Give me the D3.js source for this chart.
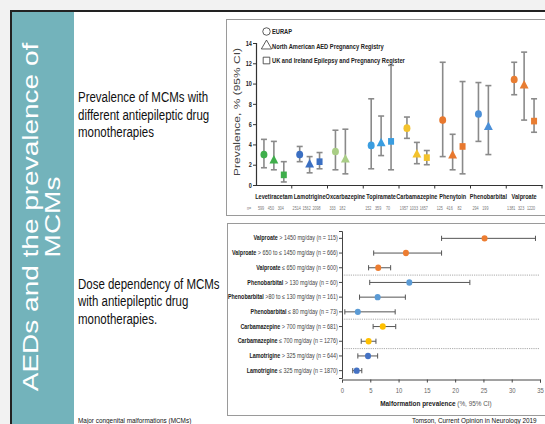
<!DOCTYPE html>
<html>
<head>
<meta charset="utf-8">
<script src="https://cdn.jsdelivr.net/npm/d3@7"></script>
<style>
body{margin:0;background:#f2f2f2;}
svg{display:block;font-family:"Liberation Sans",Arial,sans-serif;}
</style>
</head>
<body>
<svg width="545" height="424"></svg>
<script>
// ---- data: prevalence of MCMs by drug and registry ----
const drugs = ['Levetiracetam','Lamotrigine','Oxcarbazepine','Topiramate','Carbamazepine','Phenytoin','Phenobarbital','Valproate'];
const drugColors = ['#3fae4b','#3b6fc2','#a9cd85','#3a9de0','#f3c22c','#e8782e','#4b8fd7','#e87d32'];
const registries = ['EURAP','North American AED Pregnancy Registry','UK and Ireland Epilepsy and Pregnancy Register'];

const eurapPrev = [3.0, 3.0, 3.3, 3.9, 5.6, 6.4, 7.0, 10.4];
const eurapLow  = [1.7, 2.3, 1.5, 1.6, 4.6, 2.8, 4.3, 8.9];
const eurapHigh = [4.5, 3.8, 5.4, 8.5, 6.7, 12.1, 10.1, 12.1];
const naaprPrev = [2.4, 2.0, 2.5, 4.1, 3.0, 2.9, 5.7, 9.8];
const naaprLow  = [1.5, 1.2, 1.1, 2.9, 2.1, 1.5, 3.0, 6.4];
const naaprHigh = [4.3, 2.8, 5.5, 6.8, 4.2, 5.0, 9.8, 13.1];
const ukPrev    = [1.0, 2.3, null, 4.3, 2.7, 3.8, null, 6.3];
const ukLow     = [0.3, 1.6, null, 1.5, 2.0, 1.1, null, 5.2];
const ukHigh    = [2.3, 3.2, null, 11.8, 3.4, 10.2, null, 8.5];
const nCounts = [[599,450,304],[2514,1562,2098],[333,182],[152,359,70],[1957,1033,1657],[125,416,82],[294,199],[1381,323,1220]];
const prevTicks = [0,2,4,6,8,10,12,14];

// ---- data: dose dependency ----
const doseDrug  = ['Valproate','Valproate','Valproate','Phenobarbital','Phenobarbital','Phenobarbital','Carbamazepine','Carbamazepine','Lamotrigine','Lamotrigine'];
const doseText  = ['> 1450 mg/day (n = 115)','> 650 to \u2264 1450 mg/day (n = 666)','\u2264 650 mg/day (n = 600)',
                   '> 130 mg/day (n = 60)','>80 to \u2264 130 mg/day (n = 161)','\u2264 80 mg/day (n = 73)',
                   '> 700 mg/day (n = 681)','\u2264 700 mg/day (n = 1276)','> 325 mg/day (n = 644)','\u2264 325 mg/day (n = 1870)'];
const dosePrev  = [25.2, 11.3, 6.4, 11.9, 6.3, 2.8, 7.2, 4.7, 4.6, 2.6];
const doseLow   = [17.6, 5.6, 4.7, 4.9, 3.1, 0.5, 5.5, 3.4, 2.8, 1.9];
const doseHigh  = [34.2, 17.6, 8.6, 22.6, 11.2, 9.4, 9.5, 6.0, 6.3, 3.5];
const doseColors = {Valproate:'#ed7d31', Phenobarbital:'#5b9bd5', Carbamazepine:'#ffc000', Lamotrigine:'#4472c4'};
const malfTicks = [0,5,10,15,20,25,30,35];

const svg = d3.select('svg');
const width = +svg.attr('width');
const height = +svg.attr('height');
const K = 0.82; // the slide is squeezed horizontally

const txt = (g, x, y, s, size) => g.append('text')
    .attr('transform', `translate(${x},${y}) scale(${K},1)`)
    .attr('font-size', size)
    .text(s);

// ---- slide frame ----
svg.append('rect').attr('width', width).attr('height', height).attr('fill', '#f2f2f2');
svg.append('rect').attr('x', 11).attr('y', 11).attr('width', width).attr('height', height)
    .attr('fill', '#fff').attr('stroke', '#222').attr('stroke-width', 2);
svg.append('rect').attr('x', 12).attr('y', 12).attr('width', 62).attr('height', height)
    .attr('fill', '#73b3bb');

svg.append('text')
    .attr('transform', `translate(38,217) scale(${K},1) rotate(-90)`)
    .attr('text-anchor', 'middle').attr('font-size', 28).attr('fill', '#fff')
    .text('AEDs and the prevalence of');
svg.append('text')
    .attr('transform', `translate(60,217) scale(${K},1) rotate(-90)`)
    .attr('text-anchor', 'middle').attr('font-size', 28).attr('fill', '#fff')
    .text('MCMs');

const side = svg.append('g').attr('fill', '#111');
['Prevalence of MCMs with','different antiepileptic drug','monotherapies']
    .forEach((s, i) => txt(side, 78, 102 + i * 17.5, s, 14));
['Dose dependency of MCMs','with antiepileptic drug','monotherapies.']
    .forEach((s, i) => txt(side, 78, 288.5 + i * 17.5, s, 14));
txt(side, 78, 422.5, 'Major congenital malformations (MCMs)', 7.8);
txt(side, 412, 422.5, 'Tomson, Current Opinion in Neurology 2019', 7.8);

// ---- top chart ----
svg.append('rect').attr('x', 226.5).attr('y', 19.5).attr('width', 330).attr('height', 196)
    .attr('fill', '#fff').attr('stroke', '#9a9a9a');

const x = d3.scaleBand().domain(drugs).range([256, 542]);
const xs = d3.scalePoint().domain([0,1,2]).range([0, x.bandwidth()]).padding(0.8);
const y = d3.scaleLinear().domain([0, 14]).range([185, 43]);

const g = svg.append('g');

const yAxisG = g.append('g').attr('transform', 'translate(256,0)')
    .call(d3.axisLeft(y).tickValues(prevTicks).tickSize(3).tickPadding(2));
yAxisG.selectAll('text').attr('transform', `scale(${K},1)`)
    .attr('font-size', 6.8).attr('font-weight', 'bold').attr('fill', '#222');

const xAxisG = g.append('g').attr('transform', 'translate(0,185)')
    .call(d3.axisBottom(x).tickSize(0).tickPadding(9));
xAxisG.selectAll('text').attr('transform', `scale(${K},1)`)
    .attr('font-size', 6.8).attr('font-weight', 'bold').attr('fill', '#222');
g.selectAll('.domain').attr('stroke', '#333').attr('stroke-width', 1.2);
g.selectAll('.tick line').attr('stroke', '#333');

// ticks at the group boundaries
g.selectAll('.bound').data(drugs).enter().append('line')
    .attr('x1', d => x(d) + x.bandwidth()).attr('x2', d => x(d) + x.bandwidth())
    .attr('y1', 185).attr('y2', 188.5).attr('stroke', '#333');

svg.append('text')
    .attr('transform', `translate(240,112) scale(${K},1) rotate(-90)`)
    .attr('text-anchor', 'middle').attr('font-size', 12).attr('fill', '#444')
    .text('Prevalence, % (95% CI)');

const prev = [eurapPrev, naaprPrev, ukPrev];
const low = [eurapLow, naaprLow, ukLow];
const high = [eurapHigh, naaprHigh, ukHigh];
const points = drugs.flatMap((d, i) => registries.map((r, j) => ({
    drug: d, reg: j, v: prev[j][i], lo: low[j][i], hi: high[j][i], color: drugColors[i]
}))).filter(p => p.v != null);
const cx = p => x(p.drug) + xs(p.reg);

const bars = g.append('g').attr('stroke', '#8a8a8a').attr('stroke-width', 1.6);
bars.selectAll('.err').data(points).enter().append('line')
    .attr('x1', cx).attr('x2', cx).attr('y1', p => y(p.lo)).attr('y2', p => y(p.hi));
bars.selectAll('.capLo').data(points).enter().append('line')
    .attr('x1', p => cx(p) - 3).attr('x2', p => cx(p) + 3).attr('y1', p => y(p.lo)).attr('y2', p => y(p.lo));
bars.selectAll('.capHi').data(points).enter().append('line')
    .attr('x1', p => cx(p) - 3).attr('x2', p => cx(p) + 3).attr('y1', p => y(p.hi)).attr('y2', p => y(p.hi));

const symTypes = [d3.symbolCircle, d3.symbolTriangle, d3.symbolSquare];
const symSizes = [42, 38, 40];
g.selectAll('.mark').data(points).enter().append('path')
    .attr('d', p => d3.symbol().type(symTypes[p.reg]).size(symSizes[p.reg])())
    .attr('transform', p => `translate(${cx(p)},${y(p.v)}) scale(0.95,1.05)`)
    .attr('fill', p => p.color);

// legend
const leg = g.append('g');
registries.forEach((r, j) => {
    leg.append('path')
        .attr('d', d3.symbol().type(symTypes[j]).size(j === 1 ? 46 : 44)())
        .attr('transform', `translate(266.5,${31.5 + j * 14.5})`)
        .attr('fill', '#fff').attr('stroke', '#333').attr('stroke-width', 0.8);
    txt(leg, 272, 34 + j * 14.5, r, 7).attr('font-weight', 'bold').attr('fill', '#222');
});

// n counts
const nG = g.append('g').attr('fill', '#777');
txt(nG, 247, 209.5, 'n=', 4.5);
drugs.forEach((d, i) => nCounts[i].forEach((n, j) => {
    txt(nG, x(d) + xs(j) - 3, 209.5, n, 4.5).attr('text-anchor', 'middle');
}));

// ---- bottom chart ----
svg.append('rect').attr('x', 227.5).attr('y', 223.5).attr('width', 330).attr('height', 192)
    .attr('fill', '#fff').attr('stroke', '#9a9a9a');

const rows = d3.range(doseDrug.length);
const xd = d3.scaleLinear().domain([0, 35]).range([342, 540]);
const yd = d3.scaleBand().domain(rows).range([231, 378]);

const b = svg.append('g');

// dotted separators between drugs
b.selectAll('.sep').data(rows.filter(i => i > 0 && doseDrug[i] !== doseDrug[i - 1])).enter().append('line')
    .attr('x1', 342).attr('x2', 540).attr('y1', i => yd(i)).attr('y2', i => yd(i))
    .attr('stroke', '#aaa').attr('stroke-dasharray', '1.2,1');

const bxAxis = b.append('g').attr('transform', 'translate(0,379.5)')
    .call(d3.axisBottom(xd).tickValues(malfTicks).tickSize(3).tickPadding(5));
bxAxis.selectAll('text').attr('transform', `scale(${K},1)`)
    .attr('font-size', 7.2).attr('fill', '#666');

const byAxis = b.append('g').attr('transform', 'translate(342,0)')
    .call(d3.axisLeft(yd).tickSize(3).tickPadding(2).tickFormat(() => ''));
byAxis.selectAll('.tick text').each(function(i) {
    const t = d3.select(this).attr('transform', `scale(${K},1)`).attr('font-size', 6.6);
    t.append('tspan').attr('font-weight', 'bold').attr('fill', '#222').text(doseDrug[i]);
    t.append('tspan').attr('fill', '#444').text(' ' + doseText[i]);
});
b.selectAll('.domain').attr('stroke', '#444');
b.selectAll('.tick line').attr('stroke', '#444');

const rowY = i => yd(i) + yd.bandwidth() / 2;
const eb = b.append('g').attr('stroke', '#555').attr('stroke-width', 1);
eb.selectAll('.derr').data(rows).enter().append('line')
    .attr('x1', i => xd(doseLow[i])).attr('x2', i => xd(doseHigh[i]))
    .attr('y1', rowY).attr('y2', rowY);
eb.selectAll('.dcapL').data(rows).enter().append('line')
    .attr('x1', i => xd(doseLow[i])).attr('x2', i => xd(doseLow[i]))
    .attr('y1', i => rowY(i) - 2.6).attr('y2', i => rowY(i) + 2.6);
eb.selectAll('.dcapH').data(rows).enter().append('line')
    .attr('x1', i => xd(doseHigh[i])).attr('x2', i => xd(doseHigh[i]))
    .attr('y1', i => rowY(i) - 2.6).attr('y2', i => rowY(i) + 2.6);
b.selectAll('.dot').data(rows).enter().append('ellipse')
    .attr('cx', i => xd(dosePrev[i])).attr('cy', rowY)
    .attr('rx', 3).attr('ry', 3.2)
    .attr('fill', i => doseColors[doseDrug[i]]);

const title = b.append('text')
    .attr('transform', `translate(436,406) scale(${K},1)`)
    .attr('text-anchor', 'middle').attr('font-size', 7.8);
title.append('tspan').attr('font-weight', 'bold').attr('fill', '#222').text('Malformation prevalence');
title.append('tspan').attr('fill', '#555').text(' (%, 95% CI)');
</script>
</body>
</html>
